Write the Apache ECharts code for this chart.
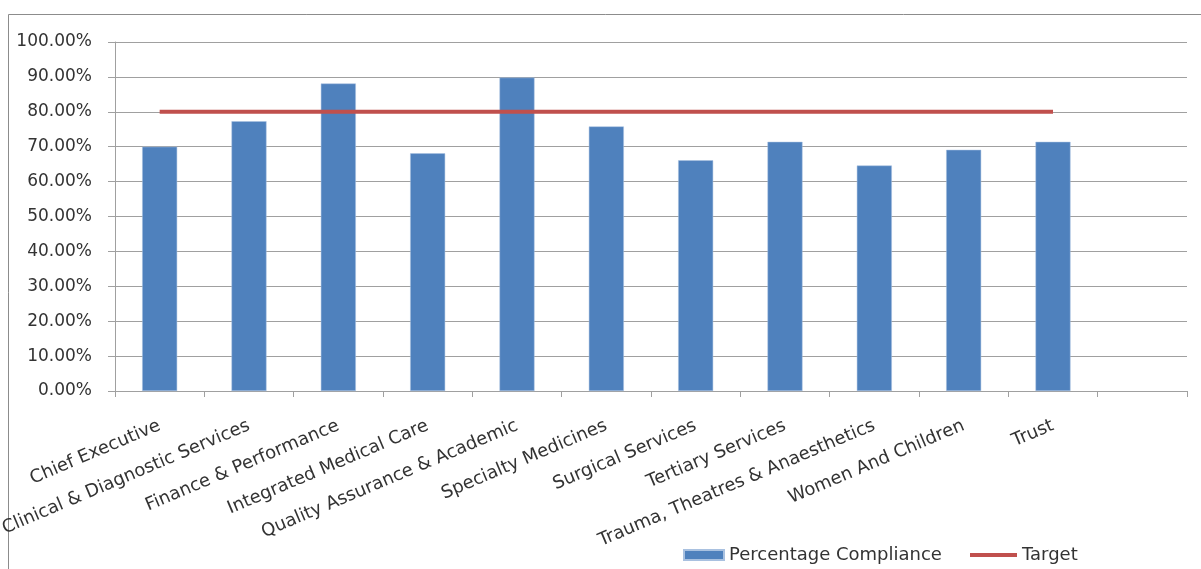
<!DOCTYPE html>
<html>
<head>
<meta charset="utf-8">
<script src="https://cdn.jsdelivr.net/npm/echarts@6/dist/echarts.min.js"></script>
<style>
html,body{margin:0;padding:0;background:#fff;}
#chart{width:1201px;height:569px;}
</style>
</head>
<body>
<div id="chart"></div>
<script>
const categories = ["Chief Executive","Clinical & Diagnostic Services","Finance & Performance","Integrated Medical Care","Quality Assurance & Academic","Specialty Medicines","Surgical Services","Tertiary Services","Trauma, Theatres & Anaesthetics","Women And Children","Trust",""];
const compliance = [70.0, 77.3, 88.1, 68.1, 89.8, 75.8, 66.1, 71.4, 64.6, 69.1, 71.4, null];
const target = [80, 80, 80, 80, 80, 80, 80, 80, 80, 80, 80, null];
const yTicks = [0,10,20,30,40,50,60,70,80,90,100];

const FONT = '"DejaVu Sans", sans-serif';
const chart = echarts.init(document.getElementById('chart'), null, {renderer:'canvas'});
chart.setOption({
  animation:false,
  backgroundColor:'#fff',
  graphic:[{type:'rect', shape:{x:8.5,y:14.5,width:1300,height:700}, style:{fill:'none',stroke:'#8c8c8c',lineWidth:1}, silent:true}],
  grid:{left:115,right:14,top:42,bottom:178,containLabel:false,outerBoundsMode:'none'},
  legend:[
    {data:[{name:'Percentage Compliance', icon:'rect'}], left:683, top:546, padding:0, itemWidth:40, itemHeight:10, itemGap:6,
     textStyle:{fontFamily:FONT,fontSize:18,color:'#333'}},
    {data:[{name:'Target', icon:'rect'}], left:970, top:546, padding:0, itemWidth:47, itemHeight:4, itemGap:5,
     textStyle:{fontFamily:FONT,fontSize:18,color:'#333'}}
  ],
  xAxis:{type:'category', data:categories,
    axisLine:{lineStyle:{color:'#a0a0a0',width:1}},
    axisTick:{show:true,length:6,lineStyle:{color:'#a0a0a0'}},
    axisLabel:{rotate:23, margin:34, interval:0, fontFamily:FONT, fontSize:18, color:'#333', hideOverlap:false},
    splitLine:{show:false}},
  yAxis:{type:'value', min:yTicks[0], max:yTicks[yTicks.length-1], interval:10,
    axisLine:{show:true,lineStyle:{color:'#a0a0a0',width:1}},
    axisTick:{show:true,length:7,lineStyle:{color:'#a0a0a0'}},
    axisLabel:{margin:23, fontFamily:FONT, fontSize:17, color:'#333', formatter:v=>v.toFixed(2)+'%'},
    splitLine:{show:true,lineStyle:{color:'#a0a0a0',width:1}}},
  series:[
    {name:'Percentage Compliance', type:'bar', data:compliance, barWidth:35,
     itemStyle:{color:'#4f81bd', borderColor:'#a9c1e0', borderWidth:0.5}},
    {name:'Target', type:'line', data:target, symbol:'none',
     lineStyle:{color:'#c0504d', width:4}, itemStyle:{color:'#c0504d'}}
  ]
});
</script>
</body>
</html>
